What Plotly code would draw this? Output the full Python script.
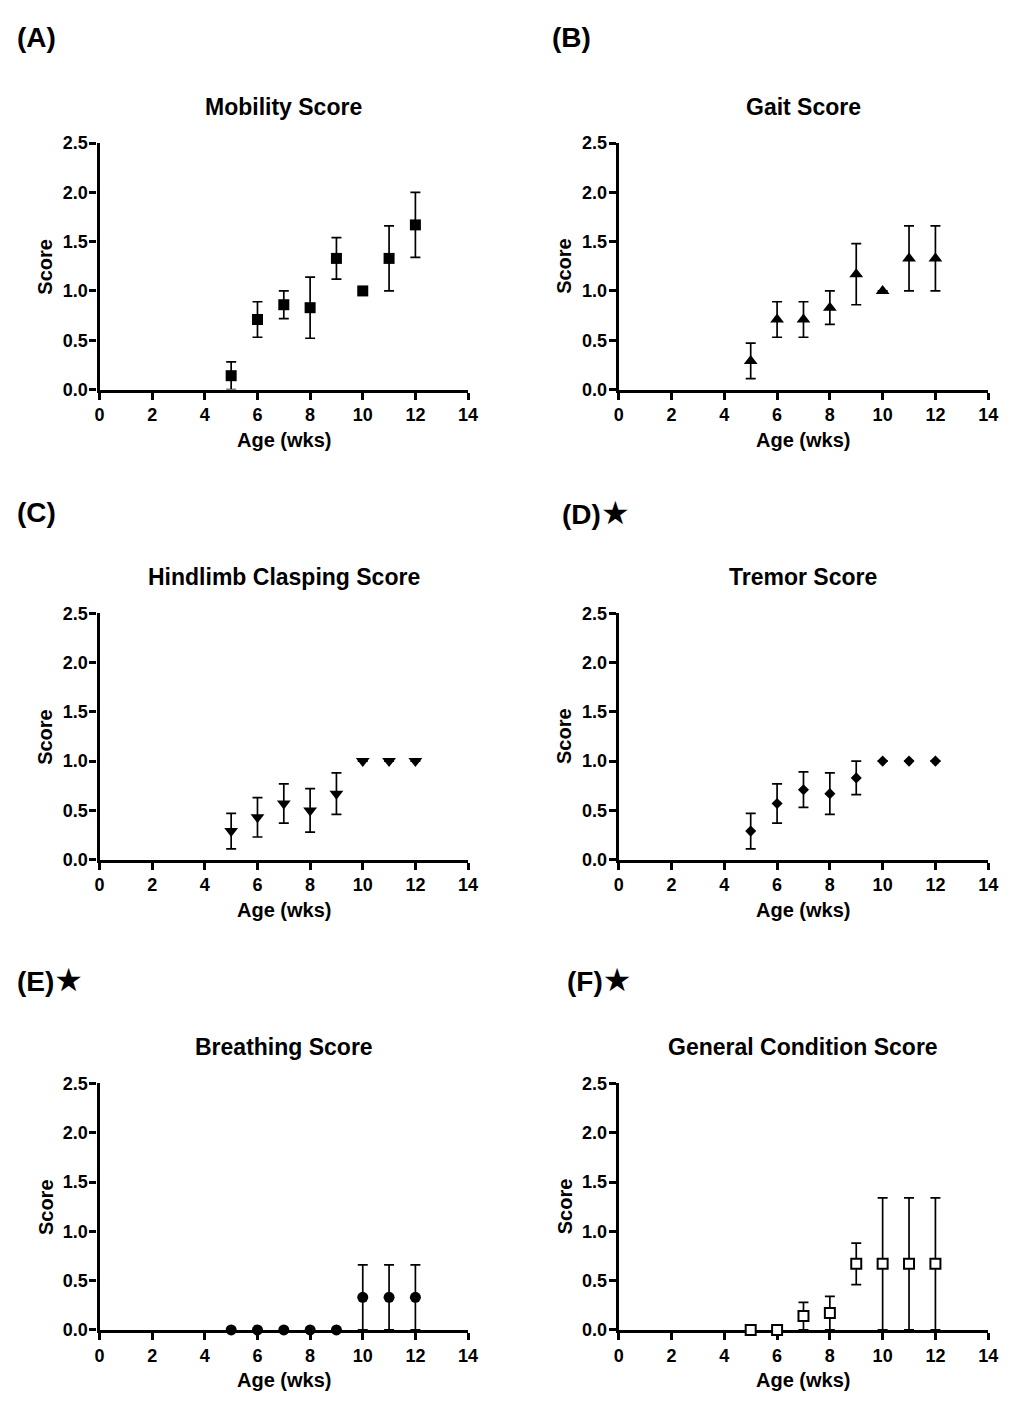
import plotly.graph_objects as go

W, H = 1011, 1401

weeks = [5, 6, 7, 8, 9, 10, 11, 12]

mobility_mean = [0.14, 0.71, 0.86, 0.83, 1.33, 1.00, 1.33, 1.67]
mobility_sem = [0.14, 0.18, 0.14, 0.31, 0.21, 0.00, 0.33, 0.33]

gait_mean = [0.29, 0.71, 0.71, 0.83, 1.17, 1.00, 1.33, 1.33]
gait_sem = [0.18, 0.18, 0.18, 0.17, 0.31, 0.00, 0.33, 0.33]

hindlimb_mean = [0.29, 0.43, 0.57, 0.50, 0.67, 1.00, 1.00, 1.00]
hindlimb_sem = [0.18, 0.20, 0.20, 0.22, 0.21, 0.00, 0.00, 0.00]

tremor_mean = [0.29, 0.57, 0.71, 0.67, 0.83, 1.00, 1.00, 1.00]
tremor_sem = [0.18, 0.20, 0.18, 0.21, 0.17, 0.00, 0.00, 0.00]

breathing_mean = [0.00, 0.00, 0.00, 0.00, 0.00, 0.33, 0.33, 0.33]
breathing_sem = [0.00, 0.00, 0.00, 0.00, 0.00, 0.33, 0.33, 0.33]

general_mean = [0.00, 0.00, 0.14, 0.17, 0.67, 0.67, 0.67, 0.67]
general_sem = [0.00, 0.00, 0.14, 0.17, 0.21, 0.67, 0.67, 0.67]

titles = ["Mobility Score", "Gait Score", "Hindlimb Clasping Score",
          "Tremor Score", "Breathing Score", "General Condition Score"]
labels = ["(A)", "(B)", "(C)", "(D)", "(E)", "(F)"]
starred = [False, False, False, True, True, True]
x_title = "Age (wks)"
y_title = "Score"
x_ticks = [0, 2, 4, 6, 8, 10, 12, 14]
y_ticks = [0.0, 0.5, 1.0, 1.5, 2.0, 2.5]

panels = [
    (mobility_mean, mobility_sem, "square", 11, "black"),
    (gait_mean, gait_sem, "triangle-up", 12, "black"),
    (hindlimb_mean, hindlimb_sem, "triangle-down", 12, "black"),
    (tremor_mean, tremor_sem, "diamond", 8.5, "black"),
    (breathing_mean, breathing_sem, "circle", 11, "black"),
    (general_mean, general_sem, "square", 10, "white"),
]

FONT = "Liberation Sans, Arial, sans-serif"

# pixel geometry of plot areas
col_x = [(96, 470), (623, 998)]
row_y = [(135, 385), (612, 862), (1089, 1339)]
label_x = [10, 553, 10, 563, 10, 568]
label_y = [28, 510, 984]


def px(x):
    return x / W


def py(y):
    return 1 - y / H


fig = go.Figure()
annotations = []
for i, (mean, sem, sym, size, fill) in enumerate(panels):
    r, c = divmod(i, 2)
    idx = "" if i == 0 else str(i + 1)
    x0, x1 = col_x[c]
    y0, y1 = row_y[r]
    err = [e if e > 0 else None for e in sem]
    fig.add_trace(go.Scatter(
        x=weeks, y=mean, mode="markers", cliponaxis=False,
        xaxis="x" + idx, yaxis="y" + idx, showlegend=False, hoverinfo="skip",
        marker=dict(symbol=sym, size=size, color=fill,
                    line=dict(color="black", width=2 if fill == "white" else 0)),
        error_y=dict(type="data", array=err, visible=True, color="black",
                     thickness=1.7, width=5),
    ))
    common = dict(showline=True, linewidth=3.2, linecolor="black", showgrid=False,
                  zeroline=False, ticks="outside", ticklen=7, tickwidth=3,
                  tickcolor="black", layer="below traces",
                  tickfont=dict(family=FONT, size=18, color="black", weight="bold"))
    fig.update_layout(**{
        "xaxis" + idx: dict(domain=[px(x0), px(x1)], range=[0, 14],
                            tickvals=x_ticks, anchor="y" + idx, **common),
        "yaxis" + idx: dict(domain=[py(y1), py(y0)], range=[0, 2.5],
                            tickvals=y_ticks, tickformat=".1f",
                            ticklabelstandoff=-2,
                            anchor="x" + idx, **common),
    })
    cx = (x0 + x1) / 2
    annotations.append(dict(text=titles[i], x=px(cx), y=py(y0 - 37),
                            xref="paper", yref="paper", showarrow=False,
                            xanchor="center", yanchor="middle",
                            font=dict(family=FONT, size=23, color="black", weight="bold")))
    annotations.append(dict(text=x_title, x=px(cx), y=py(y1 + 51),
                            xref="paper", yref="paper", showarrow=False,
                            xanchor="center", yanchor="middle",
                            font=dict(family=FONT, size=20, color="black", weight="bold")))
    annotations.append(dict(text=y_title, x=px(x0 - 55), y=py((y0 + y1) / 2),
                            xref="paper", yref="paper", showarrow=False, textangle=-90,
                            xanchor="center", yanchor="middle",
                            font=dict(family=FONT, size=20, color="black", weight="bold")))
    txt = labels[i]
    if starred[i]:
        txt += "<span style='font-size:32px;font-family:DejaVu Sans'>\u2605</span>"
    annotations.append(dict(text=txt, x=px(label_x[i]), y=py(label_y[r]),
                            xref="paper", yref="paper", showarrow=False,
                            xanchor="left", yanchor="middle",
                            font=dict(family=FONT, size=28, color="black", weight="bold")))

fig.update_layout(width=W, height=H, margin=dict(l=0, r=0, t=0, b=0),
                  paper_bgcolor="white", plot_bgcolor="white",
                  annotations=annotations)
fig.write_html("out.html", config={"displayModeBar": False},
               post_script="document.body.style.margin='0';document.body.style.overflow='hidden';")
